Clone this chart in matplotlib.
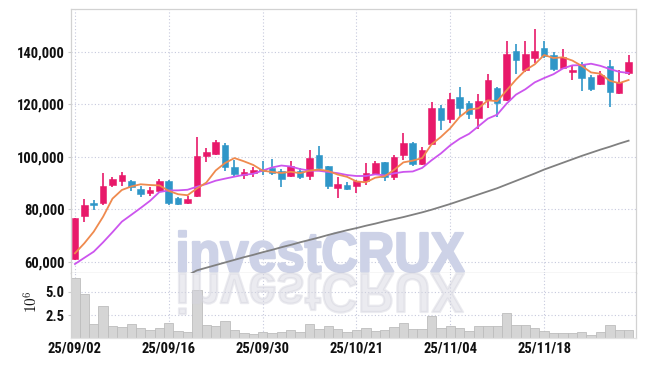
import matplotlib
matplotlib.use('Agg')
import matplotlib.pyplot as plt
import numpy as np
from matplotlib.textpath import TextPath
from matplotlib.patches import PathPatch
from matplotlib.font_manager import FontProperties, findfont
from matplotlib.transforms import Affine2D
import matplotlib.ticker as mticker

# ---------------- data ----------------
dates = ['25/09/02', '25/09/03', '25/09/04', '25/09/05', '25/09/08', '25/09/09', '25/09/10', '25/09/11',
         '25/09/12', '25/09/15', '25/09/16', '25/09/17', '25/09/18', '25/09/19', '25/09/22', '25/09/23',
         '25/09/24', '25/09/25', '25/09/26', '25/09/29', '25/09/30', '25/10/01', '25/10/02', '25/10/10',
         '25/10/13', '25/10/14', '25/10/15', '25/10/16', '25/10/17', '25/10/20', '25/10/21', '25/10/22',
         '25/10/23', '25/10/24', '25/10/27', '25/10/28', '25/10/29', '25/10/30', '25/10/31', '25/11/03',
         '25/11/04', '25/11/05', '25/11/06', '25/11/07', '25/11/10', '25/11/11', '25/11/12', '25/11/13',
         '25/11/14', '25/11/17', '25/11/18', '25/11/19', '25/11/20', '25/11/21', '25/11/24', '25/11/25',
         '25/11/26', '25/11/27', '25/11/28', '25/12/01']

opens = [60900, 77500, 82500, 82300, 89300, 90900, 90700, 87700, 86300, 87050,
         90700, 84200, 82400, 85000, 100400, 100900, 104600, 96100, 92900, 93900,
         95400, 95600, 94700, 92800, 94700, 92800, 100800, 96500, 88200, 89100,
         88800, 90900, 93400, 98000, 92400, 100800, 105300, 97300, 105000, 118700,
         114300, 122700, 120500, 114900, 121600, 126000, 121600, 140100, 133000, 137500,
         141400, 138900, 133900, 132300, 135200, 130400, 127800, 134500, 124400, 131800]
highs = [76600, 83800, 83400, 93700, 92400, 94100, 91000, 88800, 88300, 91400,
         91000, 84500, 85000, 107400, 103400, 106400, 105100, 98700, 95200, 96000,
         98200, 99000, 95500, 98500, 95800, 102500, 104100, 96600, 92400, 90500,
         91300, 97700, 98500, 98100, 100700, 109100, 105500, 103600, 121000, 119700,
         124400, 126400, 121200, 123900, 131500, 126700, 144200, 142800, 144200, 148500,
         144000, 139800, 141100, 134900, 136100, 131100, 132800, 136800, 133000, 138700]
lows = [60700, 75200, 79700, 81600, 88600, 88950, 86900, 84800, 85000, 86700,
        81500, 81500, 82000, 84800, 97900, 100500, 94700, 92400, 91400, 92400,
        93000, 93000, 88300, 92100, 91400, 91100, 94900, 87600, 84100, 87300,
        86300, 89200, 92900, 90600, 91100, 98700, 96500, 96800, 104800, 110200,
        112700, 115000, 114300, 110700, 118500, 115200, 121300, 131400, 132400, 135800,
        137500, 132800, 133300, 129200, 125100, 125100, 127300, 118800, 123900, 131100]
closes = [76500, 81600, 81700, 88800, 91500, 93000, 88300, 85900, 87400, 90700,
          82500, 82000, 84000, 100300, 101900, 105600, 96200, 93400, 94200, 94900,
          94700, 93700, 91500, 96500, 92200, 99600, 95600, 88900, 89700, 87800,
          90900, 93900, 97700, 92400, 99900, 105300, 97200, 102500, 118700, 114000,
          122000, 118700, 116300, 121200, 129100, 120600, 139100, 136800, 139100, 140300,
          138400, 133400, 138100, 133000, 130100, 125900, 131000, 124500, 128600, 136100]
# closes of the 9 sessions before the first shown candle (estimated from the MA lines)
pre_closes = [58000, 58400, 53000, 53000, 52800, 62500, 59650, 60250, 57100]

# long moving average (grey line), starting at index 12
long_ma_start = 12
long_ma = [54800, 56700, 57700, 58700, 59700, 60700, 61700, 62600, 63600, 64500,
           65500, 66400, 67400, 68300, 69200, 70200, 71100, 72000, 72800, 73700,
           74500, 75400, 76200, 77000, 77900, 78800, 79800, 80900, 82000, 83200,
           84400, 85600, 86800, 88000, 89400, 90800, 92200, 93600, 95100, 96400,
           97700, 99000, 100300, 101500, 102700, 103800, 105000, 106100]

# volume in millions
volumes = [6.42, 4.75, 1.58, 3.48, 1.37, 1.23, 1.58, 1.12, 0.94, 1.12,
           1.68, 0.84, 0.73, 5.18, 1.47, 1.37, 1.90, 0.94, 0.62, 0.49,
           0.73, 0.62, 0.73, 0.91, 0.73, 1.55, 1.05, 1.37, 1.02, 0.73,
           0.91, 1.12, 0.84, 0.94, 1.26, 1.65, 1.02, 1.02, 2.39, 1.12,
           1.37, 1.12, 0.84, 1.37, 1.37, 1.37, 2.71, 1.44, 1.44, 1.12,
           0.84, 0.62, 0.62, 0.62, 0.73, 0.38, 0.73, 1.44, 0.91, 0.91]

price_ticks = [60000, 80000, 100000, 120000, 140000]
vol_ticks = [2.5, 5.0]
date_tick_every = 10

# ---------------- style ----------------
def pick_font(cands):
    for c in cands:
        try:
            findfont(FontProperties(family=c), fallback_to_default=False)
            return c
        except Exception:
            pass
    return 'DejaVu Sans'

label_family = pick_font(['Liberation Sans Narrow', 'Roboto Condensed', 'DejaVu Sans Condensed', 'Liberation Sans'])
wm_family = pick_font(['Liberation Sans', 'Roboto', 'DejaVu Sans'])
plt.rcParams['font.family'] = [label_family, 'DejaVu Sans']
plt.rcParams['mathtext.fontset'] = 'cm'

UP = '#e8196a'
DOWN = '#2f96c8'
GRID = '#c6c9dd'
TXT = '#111111'

W, H = 645, 366
fig = plt.figure(figsize=(W / 100, H / 100), dpi=100)
L, R = 71, 636
T_main, B_main, B_vol = 9.3, 272.5, 337.5
ax = fig.add_axes([L / W, (H - B_main) / H, (R - L) / W, (B_main - T_main) / H])
axv = fig.add_axes([L / W, (H - B_vol) / H, (R - L) / W, (B_vol - B_main) / H], sharex=ax)

n = len(closes)
x = np.arange(n)
o = np.array(opens, float)
c = np.array(closes, float)
hi = np.array(highs, float)
lo = np.array(lows, float)
cols = [UP if c[i] >= o[i] else DOWN for i in range(n)]

# grid
for a in (ax, axv):
    a.set_axisbelow(True)
    a.grid(True, color=GRID, linestyle=(0, (1, 2)), linewidth=0.8)

# watermark
wm_prop = FontProperties(family=wm_family, weight='bold')
tp = TextPath((0, 0), 'investCRUX', size=1, prop=wm_prop)
ext = tp.get_extents()
cap = TextPath((0, 0), 'X', size=1, prop=wm_prop).get_extents().height
wx0, wx1, wbase, wcap = 179, 464, 271.5, 38.5
sx = (wx1 - wx0) / ext.width
sy = wcap / cap
tr_main = Affine2D().translate(-ext.x0, 0).scale(sx / W, sy / H).translate(wx0 / W, (H - wbase) / H) + fig.transFigure
tr_refl = Affine2D().translate(-ext.x0, 0).scale(sx / W, -sy / H).translate(wx0 / W, (H - wbase - 2) / H) + fig.transFigure
wm = PathPatch(tp, facecolor='#cdd2e7', edgecolor='#cdd2e7', linewidth=1.6, joinstyle='round',
               transform=tr_main, zorder=1.5)
ax.add_patch(wm)

# candles
ax.vlines(x, lo, hi, colors=cols, linewidth=1.2, zorder=2)
body_h = np.maximum(np.abs(c - o), 250)
ax.bar(x, body_h, bottom=np.minimum(o, c), width=0.7, color=cols, edgecolor=cols,
       linewidth=0.4, zorder=2.2)

# moving averages
allc = np.array(pre_closes + closes, float)
k = len(pre_closes)
ma5 = np.array([allc[k + i - 4:k + i + 1].mean() for i in range(n)])
ma10 = np.array([allc[k + i - 9:k + i + 1].mean() for i in range(n)])
ax.plot(x, ma10, color='#cc55ee', linewidth=1.3, zorder=3)
ax.plot(x, ma5, color='#ef8a4e', linewidth=1.3, zorder=3.1)
ax.plot(np.arange(long_ma_start, long_ma_start + len(long_ma)), long_ma, color='#808080',
        linewidth=1.3, zorder=3)

ax.set_ylim(55886, 156150)
ax.set_xlim(-0.42, 59.79)
ax.set_yticks(price_ticks)
ax.yaxis.set_major_formatter(mticker.FuncFormatter(lambda v, p: f'{int(v):,}'))
ax.set_xticks(x[::date_tick_every])
ax.tick_params(axis='x', which='both', length=0, labelbottom=False)
ax.tick_params(axis='y', length=2.5, color='#cccccc', pad=2, labelsize=10.5, labelcolor=TXT)
for lab in ax.get_yticklabels():
    lab.set_fontweight('bold')

# volume
axv.bar(x, volumes, width=1.0, color='#d5d5d5', edgecolor='#bdbdbd', linewidth=0.6, zorder=2)
refl = PathPatch(tp, facecolor='#d4d4de', edgecolor='#d4d4de', linewidth=1.6, joinstyle='round',
                 alpha=0.45, transform=tr_refl, zorder=2.5)
axv.add_patch(refl)
axv.set_ylim(0.15, 7.04)
axv.set_yticks(vol_ticks)
axv.set_yticklabels([f'{v:.1f}' for v in vol_ticks])
axv.set_xticks(x[::date_tick_every])
axv.set_xticklabels([dates[i] for i in x[::date_tick_every]])
axv.tick_params(axis='x', length=0, pad=3, labelsize=10.5, labelcolor=TXT)
axv.tick_params(axis='y', length=2.5, color='#cccccc', pad=2, labelsize=10.5, labelcolor=TXT)
for lab in axv.get_yticklabels() + axv.get_xticklabels():
    lab.set_fontweight('bold')
axv.text(-0.069, 0.56, r'$10^6$', transform=axv.transAxes, rotation=90, ha='center', va='center',
         fontsize=11, color=TXT)

for a in (ax, axv):
    for s in a.spines.values():
        s.set_color('#d2d2d2')
        s.set_linewidth(0.9)
ax.spines['bottom'].set_color('#b8b8b8')
axv.spines['top'].set_visible(False)
axv.spines['bottom'].set_color('#e2e2e2')

fig.savefig('out.png', dpi=100)
